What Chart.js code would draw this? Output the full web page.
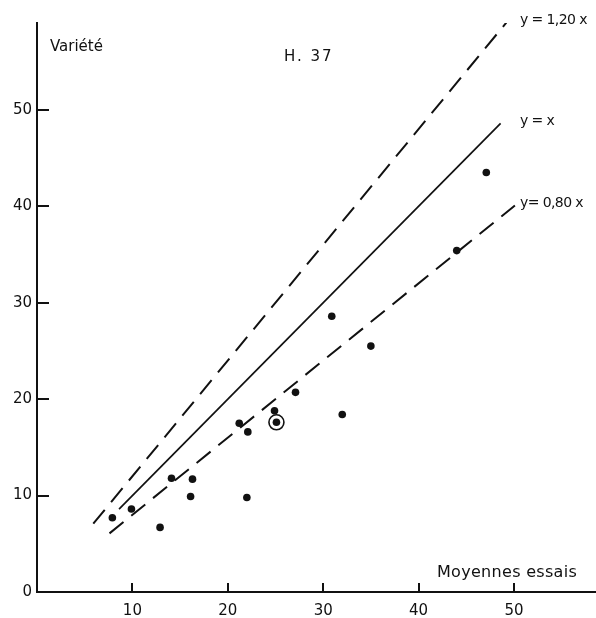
<!DOCTYPE html>
<html>
<head>
<meta charset="utf-8">
<script src="https://cdn.jsdelivr.net/npm/chart.js@4.4.1/dist/chart.umd.min.js"></script>
<style>
    html, body { margin: 0; padding: 0; background: #fff; }
    #dashboard { width: 596px; height: 618px; }
</style>
</head>
<body>
<div id="dashboard"><canvas id="graphe" width="596" height="618"></canvas></div>
<script>
// Moyennes des essais (x) et valeurs de la variété H. 37 (y)
const moyennesEssais = [7.9, 9.9, 12.9, 14.1, 16.1, 16.3, 21.2, 22.1, 22.0, 24.9, 25.1, 27.1, 30.9, 32.0, 35.0, 44.0, 47.1];
const valeursVariete = [7.7, 8.6, 6.7, 11.8, 9.9, 11.7, 17.5, 16.6, 9.8, 18.8, 17.6, 20.7, 28.6, 18.4, 25.5, 35.4, 43.5];

// point entouré
const pointEntoureX = [25.1];
const pointEntoureY = [17.6];

// droites de référence y = a.x
const pentes = [1.2, 1.0, 0.8];
const debutDroites = [5.9, 8.6, 7.6];
const finDroites = [49.2, 48.6, 50.1];
const etiquettesDroites = ['y = 1,20 x', 'y = x', 'y= 0,80 x'];

// graduations
const ticksX = [10, 20, 30, 40, 50];
const ticksY = [0, 10, 20, 30, 40, 50];

const police = '"DejaVu Sans", sans-serif';
const noir = '#111';

// datasets des droites
const droites = pentes.map((a, i) => ({
    type: 'line',
    data: [
        { x: debutDroites[i], y: a * debutDroites[i] },
        { x: finDroites[i], y: a * finDroites[i] }
    ],
    borderColor: noir,
    borderWidth: a === 1 ? 1.7 : 2,
    borderDash: a === 1 ? [] : [18, 10],
    pointRadius: 0,
    fill: false,
    order: 2
}));

// petites graduations vers l'intérieur + textes
const annotations = {
    id: 'annotations',
    afterDraw(chart) {
        const ctx = chart.ctx;
        const sx = chart.scales.x;
        const sy = chart.scales.y;
        ctx.save();
        ctx.strokeStyle = noir;
        ctx.lineWidth = 2;
        ticksY.forEach(v => {
            if (v === 0) return;
            const y = Math.round(sy.getPixelForValue(v));
            ctx.beginPath();
            ctx.moveTo(sx.left, y);
            ctx.lineTo(sx.left + 12, y);
            ctx.stroke();
        });
        ticksX.forEach(v => {
            const x = Math.round(sx.getPixelForValue(v));
            ctx.beginPath();
            ctx.moveTo(x, sy.bottom);
            ctx.lineTo(x, sy.bottom - 9);
            ctx.stroke();
        });

        ctx.fillStyle = noir;
        ctx.textBaseline = 'middle';
        ctx.textAlign = 'left';
        ctx.font = '15px ' + police;
        ctx.fillText('Variété', 50, 47);
        ctx.letterSpacing = '2px';
        ctx.font = '15px ' + police;
        ctx.fillText('H. 37', 284, 57);
        ctx.letterSpacing = '0.3px';
        ctx.font = '16px ' + police;
        ctx.fillText('Moyennes essais', 437, 573);
        ctx.letterSpacing = '-0.6px';
        ctx.font = '14px ' + police;
        pentes.forEach((a, i) => {
            const y = sy.getPixelForValue(a * finDroites[i]);
            ctx.fillText(etiquettesDroites[i], 520, Math.max(y - 2, 20));
        });
        ctx.restore();
    }
};

new Chart(document.getElementById('graphe').getContext('2d'), {
    type: 'scatter',
    data: {
        datasets: [
            {
                data: moyennesEssais.map((x, i) => ({ x: x, y: valeursVariete[i] })),
                backgroundColor: noir,
                borderWidth: 0,
                pointRadius: 3.8,
                order: 0
            },
            {
                data: pointEntoureX.map((x, i) => ({ x: x, y: pointEntoureY[i] })),
                backgroundColor: 'rgba(0,0,0,0)',
                borderColor: noir,
                borderWidth: 1.6,
                pointRadius: 7.5,
                order: 1
            },
            ...droites
        ]
    },
    options: {
        responsive: false,
        animation: false,
        layout: { autoPadding: false, padding: { top: 23, right: 0, left: 0, bottom: 0 } },
        plugins: {
            legend: { display: false },
            tooltip: { enabled: false }
        },
        scales: {
            x: {
                type: 'linear',
                min: 0,
                max: 58.6,
                border: { color: noir, width: 2 },
                grid: { display: false, drawTicks: false },
                afterBuildTicks: s => { s.ticks = ticksX.map(v => ({ value: v })); },
                afterFit: s => { s.height = 26; },
                ticks: {
                    color: noir,
                    padding: 10,
                    autoSkip: false,
                    maxRotation: 0,
                    font: { family: police, size: 15 }
                }
            },
            y: {
                type: 'linear',
                min: 0,
                max: 59,
                border: { color: noir, width: 2 },
                grid: { display: false, drawTicks: false },
                afterBuildTicks: s => { s.ticks = ticksY.map(v => ({ value: v })); },
                afterFit: s => { s.width = 37; },
                ticks: {
                    color: noir,
                    padding: 5,
                    autoSkip: false,
                    font: { family: police, size: 15 }
                }
            }
        }
    },
    plugins: [annotations]
});
</script>
</body>
</html>
